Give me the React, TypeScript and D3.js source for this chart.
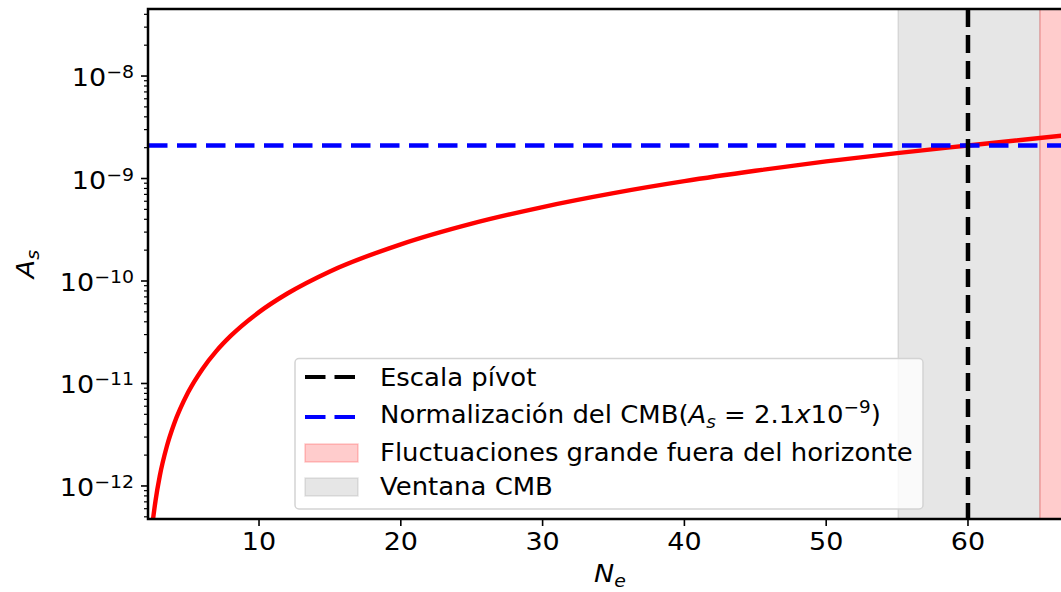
import React from "react";
import * as d3 from "d3";

// figure size and axes box (px)
const W = 1061;
const H = 592;
const left = 148;
const top = 9;
const bottom = 519;
const right = 1061;

const FONT = "DejaVu Sans";
const SX = 1.08; // the reference is slightly wider than tall

// axis ranges
const xDomain = [2.17, 66.56];
const yDomain = [4.76e-13, 4.51e-8];
const xTicks = [10, 20, 30, 40, 50, 60];
const yTickExps = [-12, -11, -10, -9, -8];

// red curve A_s(N_e)
const curveN = [2.4, 2.53, 2.7, 3.0, 3.5, 4, 5, 6, 7, 8, 10, 12, 15, 20, 25, 30, 35, 40, 45, 50, 55, 60, 66.6];
const curveAs = [
  3.27e-13, 4.79e-13, 7.16e-13, 1.25e-12, 2.44e-12, 4.0e-12, 8.2e-12, 1.38e-11, 2.08e-11, 2.91e-11, 4.97e-11,
  7.55e-11, 1.24e-10, 2.28e-10, 3.63e-10, 5.27e-10, 7.2e-10, 9.42e-10, 1.19e-9, 1.47e-9, 1.77e-9, 2.1e-9, 2.62e-9,
];

const pivotN = 60;
const cmbAs = 2.1e-9;
const windowSpan = [55, 65];
const horizonSpan = [65, 70];

const legendLabels = ["Escala pívot", "Normalización del CMB", "Fluctuaciones grande fuera del horizonte", "Ventana CMB"];

const T = ({ x, y, anchor = "start", size = 25, italic = false, children }: any) => (
  <text
    transform={`translate(${x},${y}) scale(${SX},1)`}
    textAnchor={anchor}
    fontSize={size}
    fontStyle={italic ? "italic" : "normal"}
    fontFamily={FONT}
    fill="#000"
  >
    {children}
  </text>
);

export default function App() {
  const x = d3.scaleLinear().domain(xDomain).range([left, right]);
  const y = d3.scaleLog().domain(yDomain).range([bottom, top]);

  const pts = curveN.map((n, i) => [n, curveAs[i]] as [number, number]);
  const line = d3
    .line<[number, number]>()
    .x((d) => x(d[0]))
    .y((d) => y(d[1]))
    .curve(d3.curveMonotoneX);

  const minor: number[] = [];
  for (let e = -13; e <= -8; e++) {
    for (let k = 2; k <= 9; k++) {
      const v = k * Math.pow(10, e);
      if (v > yDomain[0] && v < yDomain[1]) minor.push(v);
    }
  }

  const lgX = 295;
  const lgTextX = 380;
  const rows = [
    { hy: 377, by: 386 },
    { hy: 417, by: 423 },
    { hy: 453, by: 461 },
    { hy: 487, by: 495 },
  ];

  return (
    <svg width={W} height={H} style={{ position: "absolute", left: 0, top: 0, background: "#fff" }}>
      <defs>
        <clipPath id="plot">
          <rect x={left} y={top} width={right - left} height={bottom - top} />
        </clipPath>
      </defs>
      <rect x={0} y={0} width={W} height={H} fill="#fff" />

      <g clipPath="url(#plot)">
        <rect
          x={x(windowSpan[0]) + 1}
          y={top}
          width={x(windowSpan[1]) - x(windowSpan[0])}
          height={bottom - top}
          fill="#808080"
          fillOpacity={0.2}
          stroke="#808080"
          strokeOpacity={0.2}
          strokeWidth={1.5}
        />
        <rect
          x={x(horizonSpan[0]) + 1}
          y={top}
          width={x(horizonSpan[1]) - x(horizonSpan[0])}
          height={bottom - top}
          fill="#ff0000"
          fillOpacity={0.2}
          stroke="#ff0000"
          strokeOpacity={0.2}
          strokeWidth={1.5}
        />
        <path d={line(pts) || ""} fill="none" stroke="#ff0000" strokeWidth={4.4} />
        <line x1={left} x2={right} y1={y(cmbAs)} y2={y(cmbAs)} stroke="#0000ff" strokeWidth={4.5} strokeDasharray="19.5 9.5" />
        <line x1={x(pivotN)} x2={x(pivotN)} y1={top} y2={bottom} stroke="#000" strokeWidth={4.5} strokeDasharray="18 8" />
      </g>

      {/* spines */}
      <path d={`M${left},${top}H${right + 2}M${left},${top - 1.25}V${bottom}H${right + 2}`} fill="none" stroke="#000" strokeWidth={2.5} />

      {/* x ticks */}
      {xTicks.map((t) => (
        <g key={t}>
          <line x1={x(t)} x2={x(t)} y1={bottom} y2={bottom + 7} stroke="#000" strokeWidth={1.6} />
          <T x={x(t)} y={550} anchor="middle">{t}</T>
        </g>
      ))}

      {/* y ticks */}
      {minor.map((v, i) => (
        <line key={i} x1={left - 4} x2={left} y1={y(v)} y2={y(v)} stroke="#000" strokeWidth={1.2} />
      ))}
      {yTickExps.map((e) => {
        const py = y(Math.pow(10, e));
        return (
          <g key={e}>
            <line x1={left - 7} x2={left} y1={py} y2={py} stroke="#000" strokeWidth={1.6} />
            <T x={134} y={py + 10} anchor="end">
              10
              <tspan fontSize={17.5} dy={-8}>{"\u2212" + Math.abs(e)}</tspan>
            </T>
          </g>
        );
      })}

      {/* axis labels */}
      <T x={610} y={582} anchor="middle" italic>
        N<tspan fontSize={17.5} dy={5}>e</tspan>
      </T>
      <g transform="translate(34,264) rotate(-90)">
        <T x={0} y={0} anchor="middle" italic>
          A<tspan fontSize={17.5} dy={5}>s</tspan>
        </T>
      </g>

      {/* legend */}
      <rect x={lgX} y={358.5} width={923 - lgX} height={509 - 358.5} rx={4} fill="#fff" fillOpacity={0.8} stroke="#d3d3d3" strokeWidth={1.5} />
      <line x1={305} x2={355} y1={rows[0].hy} y2={rows[0].hy} stroke="#000" strokeWidth={4.2} strokeDasharray="20.5 9" />
      <line x1={305} x2={355} y1={rows[1].hy} y2={rows[1].hy} stroke="#0000ff" strokeWidth={4.2} strokeDasharray="20.5 9" />
      <rect x={305} y={rows[2].hy - 9} width={53} height={18} fill="#ff0000" fillOpacity={0.2} stroke="#ff0000" strokeOpacity={0.2} strokeWidth={1.5} />
      <rect x={305} y={rows[3].hy - 9} width={53} height={18} fill="#808080" fillOpacity={0.2} stroke="#808080" strokeOpacity={0.2} strokeWidth={1.5} />

      <T x={lgTextX} y={rows[0].by} size={24}>{legendLabels[0]}</T>
      <T x={lgTextX} y={rows[1].by} size={24}>
        {legendLabels[1]}(
        <tspan fontStyle="italic">A</tspan>
        <tspan fontStyle="italic" fontSize={17} dy={5}>s</tspan>
        <tspan dy={-5}> = 2.1</tspan>
        <tspan fontStyle="italic">x</tspan>
        <tspan>10</tspan>
        <tspan fontSize={17} dy={-10}>{"\u22129"}</tspan>
        <tspan dy={10}>)</tspan>
      </T>
      <T x={lgTextX} y={rows[2].by} size={24}>{legendLabels[2]}</T>
      <T x={lgTextX} y={rows[3].by} size={24}>{legendLabels[3]}</T>
    </svg>
  );
}
